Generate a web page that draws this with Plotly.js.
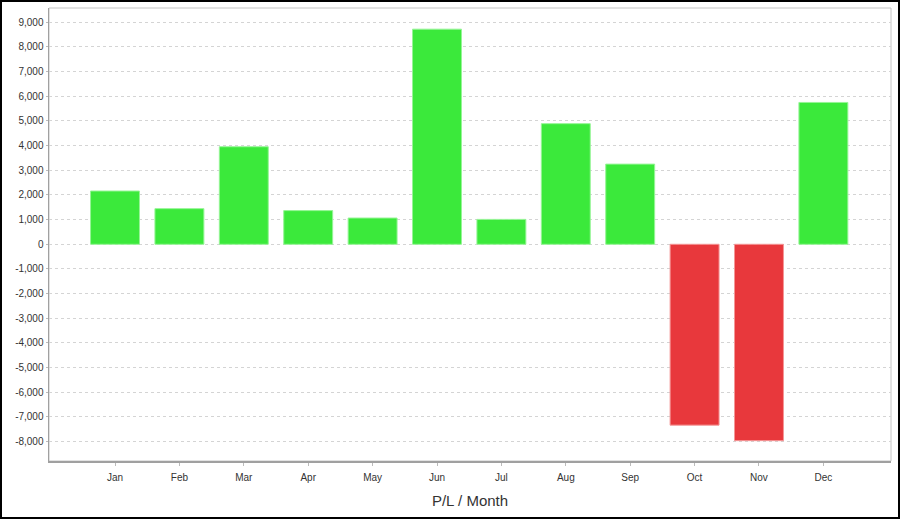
<!DOCTYPE html>
<html>
<head>
<meta charset="utf-8">
<script src="https://cdn.plot.ly/plotly-3.0.1.min.js"></script>
<style>
  html, body { margin: 0; padding: 0; background: #fff; }
  #wrap { position: relative; width: 900px; height: 519px; }
  #chart { width: 900px; height: 519px; }
  #frame { position: absolute; left: 0; top: 0; width: 900px; height: 519px; box-sizing: border-box; border: 2px solid #000; pointer-events: none; }
</style>
</head>
<body>
<div id="wrap"><div id="chart"></div><div id="frame"></div></div>
<script>
const months = ["Jan","Feb","Mar","Apr","May","Jun","Jul","Aug","Sep","Oct","Nov","Dec"];
const profitLoss = [2160, 1445, 3955, 1365, 1065, 8720, 1010, 4890, 3250, -7330, -7960, 5750];
const yTickValues = [-8000,-7000,-6000,-5000,-4000,-3000,-2000,-1000,0,1000,2000,3000,4000,5000,6000,7000,8000,9000];
const yTickLabels = ["-8,000","-7,000","-6,000","-5,000","-4,000","-3,000","-2,000","-1,000","0","1,000","2,000","3,000","4,000","5,000","6,000","7,000","8,000","9,000"];
const xTitle = "P/L / Month";

const GREEN = "rgb(59,233,59)";
const RED = "rgb(232,56,60)";
const barColors = profitLoss.map(v => v >= 0 ? GREEN : RED);
const barLines = profitLoss.map(v => v >= 0 ? "rgb(150,245,150)" : "rgb(245,150,150)");

const trace = {
  type: "bar",
  x: months,
  y: profitLoss,
  width: 0.76,
  marker: { color: barColors, line: { color: barLines, width: 1 } },
  hoverinfo: "x+y"
};

const layout = {
  width: 900,
  height: 519,
  margin: { l: 49, r: 9, t: 8, b: 58, pad: 0 },
  paper_bgcolor: "#fff",
  plot_bgcolor: "#fff",
  showlegend: false,
  font: { family: "Liberation Sans, Arial, sans-serif", color: "#444", size: 10 },
  xaxis: {
    type: "category",
    range: [-1.025, 12.05],
    showgrid: false,
    zeroline: false,
    showline: true,
    linecolor: "#a0a0a0",
    linewidth: 1.5,
    ticks: "outside",
    ticklen: 3,
    tickcolor: "#bbb",
    ticklabelstandoff: 3,
    tickfont: { size: 10, color: "#333" },
    title: { text: xTitle, font: { size: 15, color: "#333" }, standoff: 14 }
  },
  yaxis: {
    range: [-8784, 9578],
    tickmode: "array",
    tickvals: yTickValues,
    ticktext: yTickLabels,
    showgrid: true,
    gridcolor: "#d4d4d4",
    griddash: "dot",
    gridwidth: 1,
    zeroline: false,
    showline: true,
    linecolor: "#a0a0a0",
    linewidth: 1.5,
    ticks: "outside",
    ticklen: 2,
    tickcolor: "#bbb",
    tickfont: { size: 10, color: "#333" }
  },
  shapes: [
    { type: "rect", xref: "paper", yref: "paper", x0: 0, x1: 1, y0: 0, y1: 1, line: { color: "#c4c4c4", width: 1 }, layer: "below" }
  ],
  bargap: 0.24
};

Plotly.newPlot("chart", [trace], layout, { displayModeBar: false, staticPlot: true });
</script>
</body>
</html>
